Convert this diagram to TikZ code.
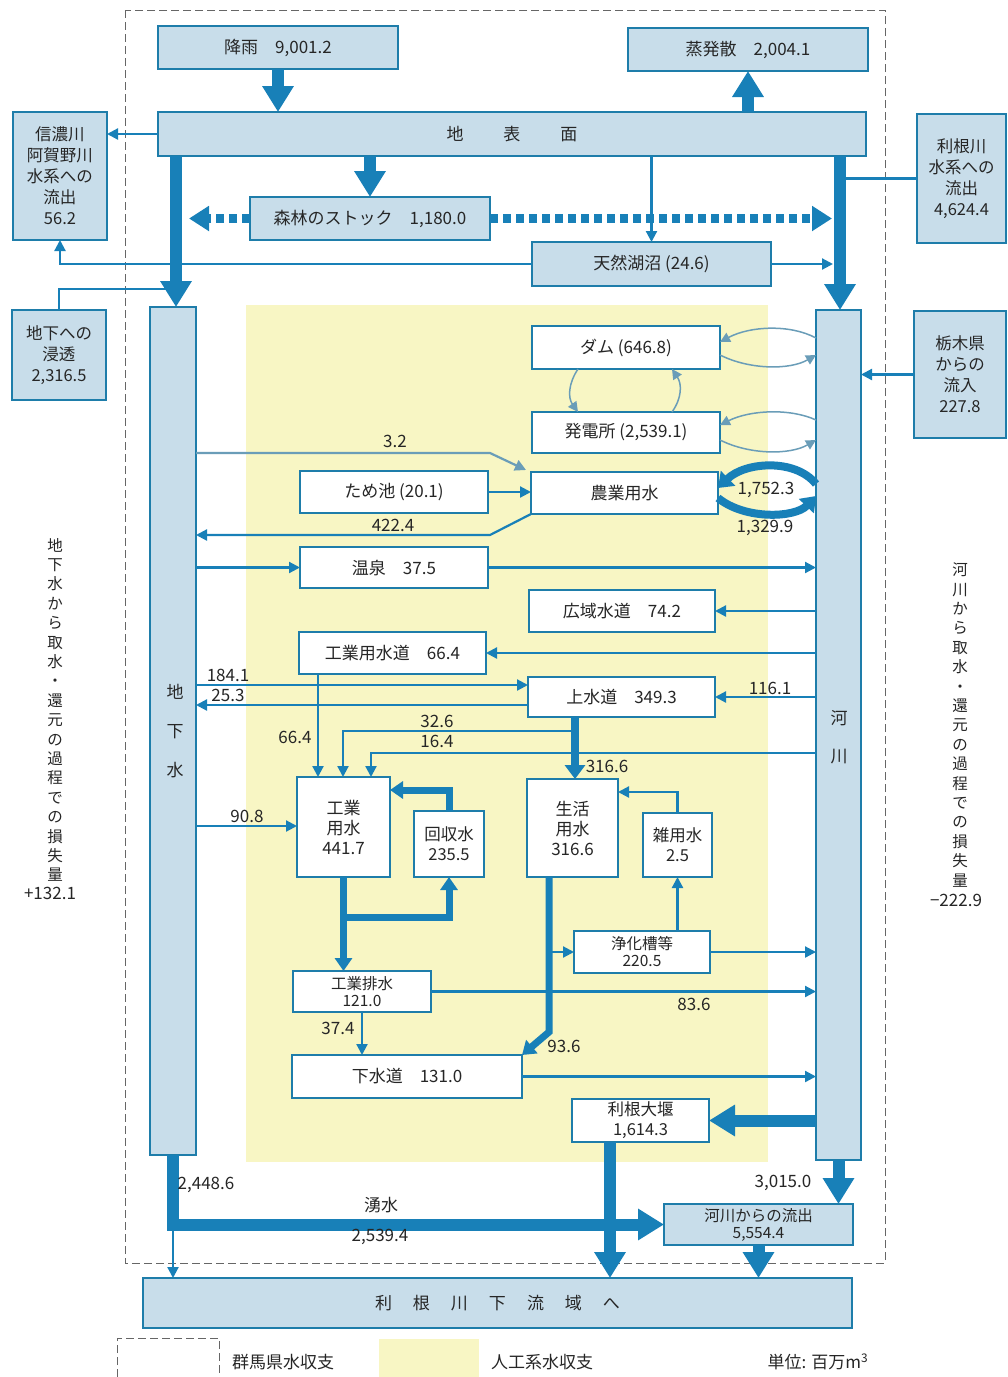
\documentclass[tikz,border=0pt]{standalone}
\usepackage{fontspec}
\setmainfont{Noto Sans CJK JP}
\usetikzlibrary{arrows.meta,calc}
\definecolor{bl}{HTML}{1880B8}
\definecolor{bfill}{HTML}{C8DDEA}
\definecolor{bdraw}{HTML}{1E7DAA}
\definecolor{ylw}{HTML}{F8F6C4}
\definecolor{txt}{HTML}{262626}
\definecolor{pale}{HTML}{6A9DB8}
\begin{document}
\begin{tikzpicture}[x=1pt,y=-1pt,
  every node/.style={text=txt, font=\fontsize{17}{20}\selectfont, inner sep=0pt, outer sep=0pt},
  bbox/.style={draw=bdraw, line width=2.4pt, fill=bfill, align=center},
  wbox/.style={draw=bdraw, line width=2.4pt, fill=white, align=center},
  colbox/.style={draw=bdraw, line width=2.4pt, fill=bfill},
  small/.style={font=\fontsize{15.5}{17}\selectfont},
  tarr/.style={draw=bl, line width=2.2pt, -{Triangle[width=11pt,length=11pt]}},
  tline/.style={draw=bl, line width=2.2pt},
  carr/.style={draw=pale, line width=1.5pt, -{Triangle[width=10pt,length=10pt]}},
  tkarr/.style={draw=bl, line width=12pt, line join=miter, -{Triangle[width=30pt,length=26pt]}},
  marr/.style={draw=bl, line width=8pt, -{Triangle[width=20pt,length=14pt]}},
  sarr/.style={draw=bl, line width=7pt, line join=miter, -{Triangle[width=17pt,length=13pt]}},
  dasharr/.style={draw=bl, line width=9pt, dash pattern=on 8pt off 5pt, -{Triangle[width=24pt,length=20pt]}},
  lbl/.style={font=\fontsize{17}{20}\selectfont},
]
\useasboundingbox (0,0) rectangle (1008,1377);
\fill[white] (0,0) rectangle (1008,1377);
% yellow man-made area
\fill[ylw] (246,305) rectangle (768,1162);
% prefecture boundary
\draw[gray!80!black, line width=1pt, dash pattern=on 8pt off 4pt] (125,10) rectangle (885,1263);

% ---------- nodes ----------
\node[bbox, minimum width=240pt, minimum height=43pt] (rain) at (278,47.5) {降雨\quad 9,001.2};
\node[bbox, minimum width=240pt, minimum height=43pt] (evap) at (748,49.5) {蒸発散\quad 2,004.1};
\node[bbox, minimum width=708pt, minimum height=44pt] (surface) at (512,134) {地\hspace{40pt}表\hspace{40pt}面};
\node[bbox, minimum width=94pt, minimum height=128pt, font=\fontsize{16.5}{21}\selectfont] (shinano) at (60,176) {信濃川\\阿賀野川\\水系への\\流出\\56.2};
\node[bbox, minimum width=240pt, minimum height=43pt] (forest) at (370,218.5) {森林のストック\quad 1,180.0};
\node[bbox, minimum width=239pt, minimum height=44pt] (lake) at (651.5,264) {天然湖沼\ (24.6)};
\node[bbox, minimum width=89pt, minimum height=129pt, font=\fontsize{16.5}{21}\selectfont] (tonesys) at (961.5,178.5) {利根川\\水系への\\流出\\4,624.4};
\node[bbox, minimum width=94pt, minimum height=90pt, font=\fontsize{16.5}{21}\selectfont] (infil) at (59,355) {地下への\\浸透\\2,316.5};
\node[colbox, minimum width=46pt, minimum height=848pt] (gw) at (173,731) {};
\node[font=\fontsize{17}{39}\selectfont, align=center] (gwt) at (175,731) {地\\下\\水};
\node[colbox, minimum width=45pt, minimum height=850pt] (river) at (838.5,735) {};
\node[font=\fontsize{17}{38}\selectfont, align=center] (rivert) at (839,737) {河\\川};
\node[bbox, minimum width=92pt, minimum height=127pt, font=\fontsize{16.5}{21}\selectfont] (tochigi) at (960,374.5) {栃木県\\からの\\流入\\227.8};

\node[wbox, minimum width=188pt, minimum height=43pt] (dam) at (626,347.5) {ダム\ (646.8)};
\node[wbox, minimum width=188pt, minimum height=41pt] (power) at (626,432.5) {発電所\ (2,539.1)};
\node[wbox, minimum width=187pt, minimum height=42pt] (agri) at (624.5,493) {農業用水};
\node[wbox, minimum width=188pt, minimum height=42pt] (tameike) at (394,492) {ため池\ (20.1)};
\node[wbox, minimum width=188pt, minimum height=41pt] (onsen) at (394,567.5) {温泉\quad 37.5};
\node[wbox, minimum width=186pt, minimum height=42pt] (koiki) at (622,611) {広域水道\quad 74.2};
\node[wbox, minimum width=187pt, minimum height=42pt] (kogyosuido) at (392.5,653) {工業用水道\quad 66.4};
\node[wbox, minimum width=187pt, minimum height=40pt] (josuido) at (621.5,697) {上水道\quad 349.3};
\node[wbox, minimum width=93pt, minimum height=100pt, font=\fontsize{17}{20}\selectfont] (kogyo) at (343.5,827) {工業\\用水\\441.7};
\node[wbox, minimum width=70pt, minimum height=66pt, font=\fontsize{16.5}{20}\selectfont] (kaishu) at (449,844) {回収水\\235.5};
\node[wbox, minimum width=91pt, minimum height=98pt, font=\fontsize{17}{20}\selectfont] (seikatsu) at (572.5,828) {生活\\用水\\316.6};
\node[wbox, minimum width=69pt, minimum height=64pt, font=\fontsize{16.5}{20}\selectfont] (zatsu) at (677.5,845) {雑用水\\2.5};
\node[wbox, small, minimum width=136pt, minimum height=42pt] (johka) at (642,952) {浄化槽等\\220.5};
\node[wbox, small, minimum width=138pt, minimum height=41pt] (haisui) at (362,991.5) {工業排水\\121.0};
\node[wbox, minimum width=230pt, minimum height=43pt] (gesui) at (407,1076.5) {下水道\quad 131.0};
\node[wbox, minimum width=137pt, minimum height=43pt, font=\fontsize{16.5}{20}\selectfont] (tonedam) at (640.5,1120.5) {利根大堰\\1,614.3};
\node[bbox, small, minimum width=189pt, minimum height=41pt] (outflow) at (758.5,1224.5) {河川からの流出\\5,554.4};
\node[bbox, minimum width=709pt, minimum height=50pt] (down) at (497.5,1303) {利\hspace{21pt}根\hspace{21pt}川\hspace{21pt}下\hspace{21pt}流\hspace{21pt}域\hspace{21pt}へ};

\coordinate (gwa) at (176,0);
\coordinate (rva) at (840,0);

% ---------- connectors: top ----------
\draw[tarr] (surface.west) -- (shinano.east |- surface.west);
\draw[tarr] (lake.west) -- (shinano.south |- lake.west) -- (shinano.south);
\draw[tline] (infil.north) -- (infil.north |- 0,289) -- (gwa |- 0,289);
\draw[tline] (rva |- tonesys.west) -- (tonesys.west);
\draw[tarr] (surface.south -| lake.north) -- (lake.north);
\draw[tarr] (lake.east) -- ($(rva |- lake.east)+(-7,0)$);
\draw[dasharr] (forest.west) -- ($(gwa |- forest.west)+(13,0)$);
\draw[dasharr] (forest.east) -- ($(rva |- forest.east)+(-8,0)$);
\draw[tkarr] (rain.south) -- (rain.south |- surface.north);
\draw[tkarr] (evap.south |- surface.north) -- (evap.south);
\draw[tkarr] (surface.south -| forest.north) -- (forest.north);
\draw[tkarr] (surface.south -| gwa) -- (gw.north -| gwa);
\draw[tkarr] (surface.south -| rva) -- (river.north -| rva);
\draw[tarr] (tochigi.west) -- (river.east |- tochigi.west);

% ---------- dam / power / agri ----------
\draw[carr] (river.west |- 0,338) .. controls (790,324) and (750,326) .. (dam.east |- 0,342);
\draw[carr] (dam.east |- 0,355) .. controls (750,370) and (790,370) .. (river.west |- 0,355);
\draw[carr] (river.west |- 0,420) .. controls (790,408) and (750,410) .. (power.east |- 0,425);
\draw[carr] (power.east |- 0,440) .. controls (750,455) and (790,455) .. (river.west |- 0,440);
\draw[carr] ($(dam.south)+(-48,0)$) .. controls (568,384) and (568,398) .. ($(power.north)+(-48,0)$);
\draw[carr] ($(power.north)+(46,0)$) .. controls (682,398) and (682,384) .. ($(dam.south)+(46,0)$);
\draw[marr] (river.west |- 0,484) .. controls (795,458) and (745,462) .. (agri.east |- 0,488);
\draw[marr] (agri.east |- 0,498) .. controls (745,520) and (795,518) .. (river.west |- 0,496);
\node[lbl] (l1752) at (766,490) {1,752.3};
\node[lbl] (l1329) at (765,528) {1,329.9};

\draw[draw=pale, line width=2.2pt, -{Triangle[width=11pt,length=11pt]}] (gw.east |- 0,453) -- (490,453) -- ($(agri.north west)+(-5,-2)$);
\node[lbl] (l32) at (395,441) {3.2};
\draw[tarr] (tameike.east) -- (agri.west |- tameike.east);
\draw[tarr] (agri.south west) -- (490,535) -- (gw.east |- 0,535);
\node[lbl] (l4224) at (393,525) {422.4};
\draw[tarr] (gw.east |- onsen.west) -- (onsen.west);
\draw[tarr] (onsen.east) -- (river.west |- onsen.east);

% ---------- water supply ----------
\draw[tarr] (river.west |- koiki.east) -- (koiki.east);
\draw[tarr] (river.west |- kogyosuido.east) -- (kogyosuido.east);
\draw[tarr] (river.west |- josuido.east) -- (josuido.east);
\node[lbl] (l1161) at (770,688) {116.1};
\draw[tarr] (gw.east |- 0,685) -- (josuido.west |- 0,685);
\node[lbl] (l1841) at (228,675) {184.1};
\draw[tarr] (josuido.west |- 0,705) -- (gw.east |- 0,705);
\node[lbl] (l253) at (228,695) {25.3};
\draw[tarr] (kogyosuido.south -| 318,0) -- (kogyo.north -| 318,0);
\node[lbl] (l664) at (295,737) {66.4};
\draw[tarr] (575,731) -- (343,731) -- (kogyo.north -| 343,0);
\node[lbl] (l326) at (437,721) {32.6};
\draw[tarr] (river.west |- 0,753) -- (371,753) -- (kogyo.north -| 371,0);
\node[lbl] (l164) at (437,741) {16.4};
\draw[marr] (josuido.south -| 575,0) -- (seikatsu.north -| 575,0);
\node[lbl] (l3166) at (607,766) {316.6};
\draw[tarr] (gw.east |- 0,826) -- (kogyo.west |- 0,826);
\node[lbl] (l908) at (247,816) {90.8};

% ---------- industrial / domestic ----------
\draw[sarr] (kaishu.north) -- (kaishu.north |- 0,790) -- (kogyo.east |- 0,790);
\draw[sarr] (kogyo.south) -- (haisui.north -| kogyo.south);
\draw[sarr] (kogyo.south |- 0,917) -- (kaishu.south |- 0,917) -- (kaishu.south);
\draw[tarr] (zatsu.north) -- (zatsu.north |- 0,792) -- (seikatsu.east |- 0,792);
\draw[tarr] (johka.north -| zatsu.south) -- (zatsu.south);
\draw[tarr] (549,952) -- (johka.west);
\draw[tarr] (johka.east) -- (river.west |- johka.east);
\draw[tarr] (haisui.east) -- (river.west |- haisui.east);
\node[lbl] (l836) at (694,1004) {83.6};
\draw[tarr] (haisui.south) -- (gesui.north -| haisui.south);
\node[lbl] (l374) at (338,1028) {37.4};
\draw[sarr] (seikatsu.south -| 549,0) -- (549,1032) -- (gesui.north east);
\node[lbl] (l936) at (564,1046) {93.6};
\draw[tarr] (gesui.east) -- (river.west |- gesui.east);

% ---------- bottom ----------
\draw[tkarr] (river.west |- tonedam.east) -- (tonedam.east);
\draw[tkarr] (tonedam.south -| 610,0) -- (down.north -| 610,0);
\draw[tarr] (gw.south |- outflow.west) -- (gw.south |- down.north);
\draw[tkarr] (gw.south) -- (gw.south |- outflow.west) -- (outflow.west);
\node[lbl] (l24486) at (206,1185) {2,448.6};
\node[lbl] (lyu) at (381,1205) {湧水};
\node[lbl] (l25394) at (380,1237) {2,539.4};
\draw[tkarr] (river.south) -- (outflow.north -| river.south);
\node[lbl] (l30150) at (783,1183) {3,015.0};
\draw[tkarr] (outflow.south) -- (down.north -| outflow.south);

% ---------- side texts ----------
\node[font=\fontsize{15.5}{19.4}\selectfont, align=center] (lossL) at (55,710) {地\\下\\水\\か\\ら\\取\\水\\・\\還\\元\\の\\過\\程\\で\\の\\損\\失\\量};
\node[lbl] (lossLv) at (50,893) {+132.1};
\node[font=\fontsize{15.5}{19.4}\selectfont, align=center] (lossR) at (960,725) {河\\川\\か\\ら\\取\\水\\・\\還\\元\\の\\過\\程\\で\\の\\損\\失\\量};
\node[lbl] (lossRv) at (956,900) {−222.9};

% ---------- legend ----------
\draw[gray!80!black, line width=1pt, dash pattern=on 8pt off 4pt] (117,1377) -- (117,1338) -- (219,1338) -- (219,1377);
\fill[ylw] (379,1339) rectangle (479,1377);
\node[lbl] (leg1) at (283,1362) {群馬県水収支};
\node[lbl] (leg2) at (542,1362) {人工系水収支};
\node[lbl] (leg3) at (818,1362) {単位: 百万m\textsuperscript{3}};
\end{tikzpicture}
\end{document}
